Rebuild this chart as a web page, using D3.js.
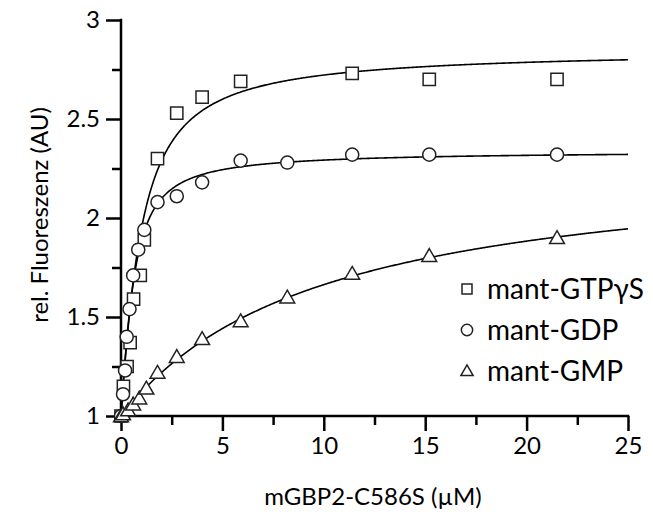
<!DOCTYPE html>
<html>
<head>
<meta charset="utf-8">
<script src="https://cdn.jsdelivr.net/npm/d3@7"></script>
<style>
  html, body { margin: 0; padding: 0; background: #fff; }
  svg { display: block; font-family: Lato, "Open Sans", sans-serif; }
</style>
</head>
<body>
<svg id="chart" width="653" height="519"></svg>
<script>
// Titration of mant-nucleotides with mGBP2-C586S
const seriesNames = ["mant-GTPγS", "mant-GDP", "mant-GMP"];
const seriesSymbols = ["square", "circle", "triangle"];

const gtpX = [0, 0.12, 0.3, 0.45, 0.62, 0.95, 1.15, 1.8, 2.75, 4.0, 5.9, 11.4, 15.2, 21.5];
const gtpY = [1.0, 1.15, 1.25, 1.37, 1.59, 1.71, 1.89, 2.30, 2.53, 2.61, 2.69, 2.73, 2.70, 2.70];

const gdpX = [0, 0.1, 0.2, 0.28, 0.42, 0.6, 0.85, 1.15, 1.8, 2.75, 4.0, 5.9, 8.2, 11.4, 15.2, 21.5];
const gdpY = [1.0, 1.11, 1.23, 1.40, 1.54, 1.71, 1.84, 1.94, 2.08, 2.11, 2.18, 2.29, 2.28, 2.32, 2.32, 2.32];

const gmpX = [0, 0.1, 0.35, 0.6, 0.9, 1.25, 1.8, 2.75, 4.0, 5.9, 8.2, 11.4, 15.2, 21.5];
const gmpY = [1.0, 1.01, 1.03, 1.06, 1.09, 1.14, 1.22, 1.30, 1.39, 1.48, 1.60, 1.72, 1.81, 1.90];

// Fitted binding parameters: amplitude, Kd (µM), nucleotide concentration (µM)
const fitAmplitude = [1.852, 1.34, 1.31];
const fitKd = [0.72, 0.35, 9.5];
const fitLigand = [0.5, 0.5, 0.5];

const xTicks = [0, 5, 10, 15, 20, 25];
const xMinorTicks = [2.5, 7.5, 12.5, 17.5, 22.5];
const yTicks = [1, 1.5, 2, 2.5, 3];
const yMinorTicks = [1.25, 1.75, 2.25, 2.75];

const xTitle = "mGBP2-C586S (µM)";
const yTitle = "rel. Fluoreszenz (AU)";

const svg = d3.select("#chart");
const x = d3.scaleLinear().domain([0, 25]).range([121, 628]);
const y = d3.scaleLinear().domain([1, 3]).range([416, 20]);

const ink = "#000";
const markInk = "#222";

// quadratic (ligand-depletion) binding model
function bound(P, A, K, L) {
  const s = P + L + K;
  return 1 + A * (s - Math.sqrt(s * s - 4 * P * L)) / (2 * L);
}

// fit curves
const line = d3.line().x(d => x(d[0])).y(d => y(d[1]));
seriesNames.forEach((name, i) => {
  const pts = d3.range(0, 25.001, 0.05).map(p => [p, bound(p, fitAmplitude[i], fitKd[i], fitLigand[i])]);
  svg.append("path").attr("d", line(pts))
    .attr("fill", "none").attr("stroke", ink).attr("stroke-width", 1.6);
});

// axes
const xAxis = d3.axisBottom(x).tickValues(xTicks).tickSize(15).tickPadding(6).tickFormat(d3.format("d"));
const xMinor = d3.axisBottom(x).tickValues(xMinorTicks).tickSize(9).tickFormat("");
const yAxis = d3.axisLeft(y).tickValues(yTicks).tickSize(15).tickPadding(6).tickFormat(d => d3.format("")(d));
const yMinor = d3.axisLeft(y).tickValues(yMinorTicks).tickSize(9).tickFormat("");

function styleAxis(g) {
  g.select(".domain").remove();
  g.selectAll("line").attr("stroke", ink).attr("stroke-width", 2.5);
  g.selectAll("text").attr("fill", ink).attr("font-size", 24).attr("font-family", "Lato, sans-serif");
}
svg.append("g").attr("transform", `translate(0,${y(1)})`).call(xAxis).call(styleAxis);
svg.append("g").attr("transform", `translate(0,${y(1)})`).call(xMinor).call(styleAxis);
svg.append("g").attr("transform", `translate(${x(0)},0)`).call(yAxis).call(styleAxis);
svg.append("g").attr("transform", `translate(${x(0)},0)`).call(yMinor).call(styleAxis);

svg.append("path")
  .attr("d", `M${x(0)},${y(3)}V${y(1)}H${x(25)}`)
  .attr("fill", "none").attr("stroke", ink).attr("stroke-width", 2.5).attr("stroke-linecap", "square");

// markers
const symbolType = { square: d3.symbolSquare, circle: d3.symbolCircle, triangle: d3.symbolTriangle };
const symbolSize = { square: 150, circle: 135, triangle: 95 };
const seriesData = [[gtpX, gtpY], [gdpX, gdpY], [gmpX, gmpY]];
seriesData.forEach(([xs, ys], i) => {
  const kind = seriesSymbols[i];
  const sym = d3.symbol().type(symbolType[kind]).size(symbolSize[kind]);
  svg.append("g").selectAll("path").data(xs.map((v, j) => [v, ys[j]])).join("path")
    .attr("d", sym)
    .attr("transform", d => `translate(${x(d[0])},${y(d[1]) + (kind === "triangle" ? 1.5 : 0)})`)
    .attr("fill", "#fff").attr("stroke", markInk).attr("stroke-width", 1.5);
});

// legend
const legend = svg.append("g").attr("transform", "translate(467,289)");
seriesNames.forEach((name, i) => {
  const kind = seriesSymbols[i];
  const row = legend.append("g").attr("transform", `translate(0,${i * 41})`);
  row.append("path")
    .attr("d", d3.symbol().type(symbolType[kind]).size(kind === "triangle" ? 65 : 100)())
    .attr("transform", kind === "triangle" ? "translate(0,1)" : null)
    .attr("fill", "#fff").attr("stroke", markInk).attr("stroke-width", 1.5);
  row.append("text").attr("x", 20).attr("y", 10).text(name)
    .attr("font-size", 28).attr("fill", ink);
});

// axis titles
svg.append("text").attr("x", 373).attr("y", 505).attr("text-anchor", "middle")
  .attr("font-size", 24).attr("fill", ink).text(xTitle);
svg.append("text").attr("transform", "translate(48,215) rotate(-90)").attr("text-anchor", "middle")
  .attr("font-size", 24).attr("fill", ink).text(yTitle);
</script>
</body>
</html>
